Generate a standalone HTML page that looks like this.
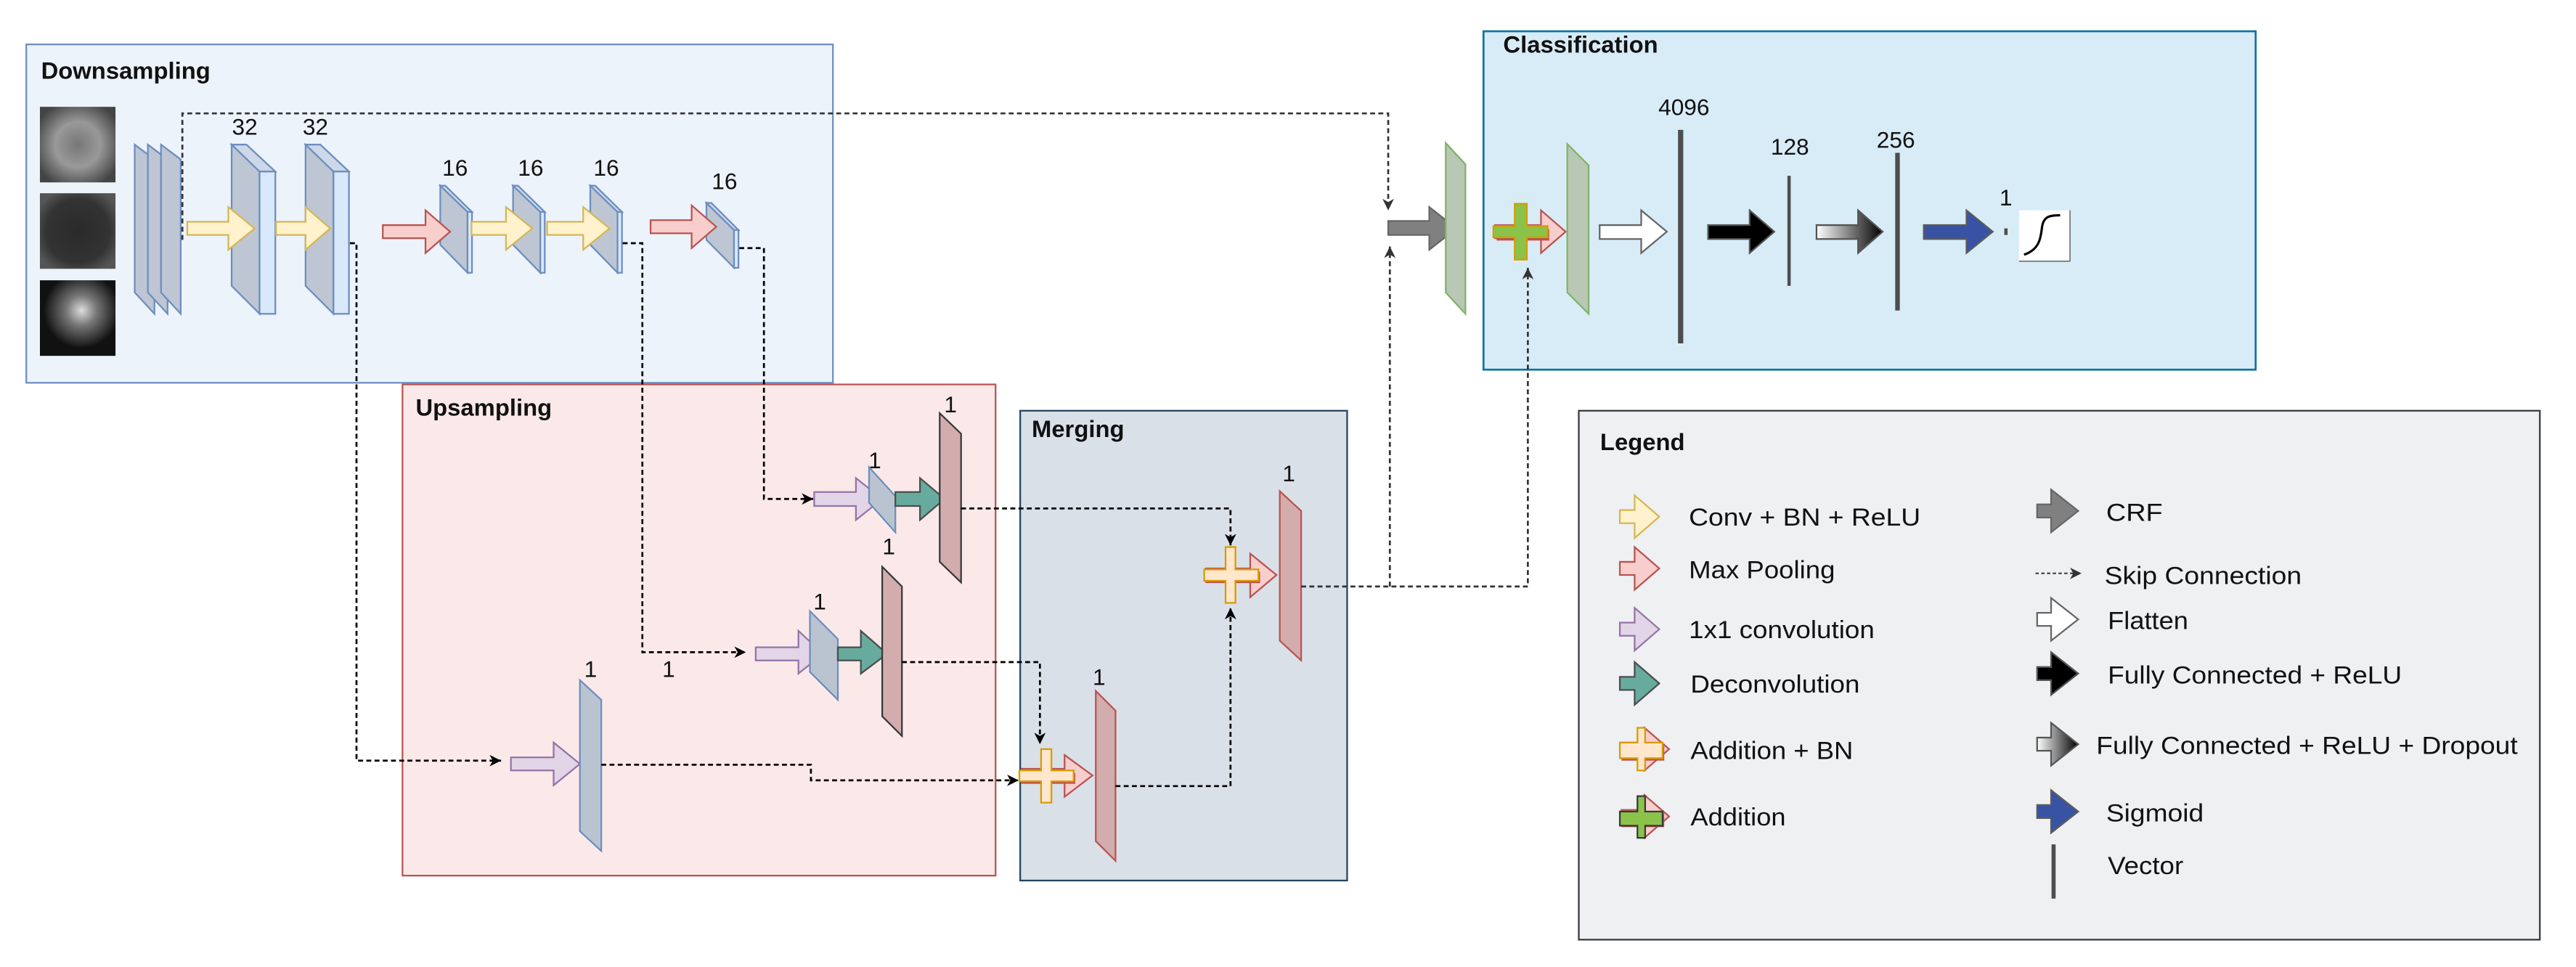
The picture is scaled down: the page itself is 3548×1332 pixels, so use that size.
<!DOCTYPE html>
<html><head><meta charset="utf-8"><style>html,body{margin:0;padding:0;background:#fff}svg{display:block}</style></head>
<body>
<svg xmlns="http://www.w3.org/2000/svg" width="3548" height="1332" viewBox="0 0 1568 588.6" font-family="Liberation Sans, Arial, sans-serif">
<defs>
<marker id="ah" markerUnits="userSpaceOnUse" markerWidth="8" markerHeight="8" viewBox="0 0 8 8" refX="7" refY="4" orient="auto"><path d="M0,0.5 L7,4 L0,7.5 L2,4 Z" fill="#000"/></marker>
<marker id="ahg" markerUnits="userSpaceOnUse" markerWidth="8" markerHeight="8" viewBox="0 0 8 8" refX="7" refY="4" orient="auto"><path d="M0,0.5 L7,4 L0,7.5 L2,4 Z" fill="#333"/></marker>
<linearGradient id="gr" x1="0" x2="1" y1="0" y2="0"><stop offset="0" stop-color="#fff"/><stop offset="1" stop-color="#000"/></linearGradient>
<radialGradient id="m1" cx="0.5" cy="0.5" r="0.6"><stop offset="0" stop-color="#777"/><stop offset="0.5" stop-color="#999"/><stop offset="1" stop-color="#444"/></radialGradient>
<radialGradient id="m2" cx="0.5" cy="0.5" r="0.6"><stop offset="0" stop-color="#2a2a2a"/><stop offset="0.7" stop-color="#333"/><stop offset="1" stop-color="#555"/></radialGradient>
<radialGradient id="m3" cx="0.55" cy="0.4" r="0.5"><stop offset="0" stop-color="#ddd"/><stop offset="0.4" stop-color="#777"/><stop offset="1" stop-color="#111"/></radialGradient>
</defs>

<!-- Boxes -->
<rect x="16" y="27" width="491" height="206" fill="#ecf3fb" stroke="#6c8ebf" stroke-width="1"/>
<rect x="903" y="19" width="470" height="206" fill="#d8ecf7" stroke="#10739e" stroke-width="1.2"/>
<rect x="245" y="234" width="361" height="299" fill="#fbe9e9" stroke="#b85450" stroke-width="1"/>
<rect x="621" y="250" width="199" height="286" fill="#dae0e8" stroke="#23445d" stroke-width="1"/>
<rect x="961" y="250" width="585" height="322" fill="#eff0f2" stroke="#36393d" stroke-width="1"/>

<text x="25" y="48" font-size="14.5" font-weight="bold" fill="#111">Downsampling</text>
<text x="915" y="32" font-size="14.5" font-weight="bold" fill="#111">Classification</text>
<text x="253" y="253" font-size="14.5" font-weight="bold" fill="#111">Upsampling</text>
<text x="628" y="266" font-size="14.5" font-weight="bold" fill="#111">Merging</text>
<text x="974" y="274" font-size="14.5" font-weight="bold" fill="#111">Legend</text>

<!-- MRI thumbs -->
<rect x="24.3" y="65" width="46" height="46" fill="url(#m1)"/>
<rect x="24.3" y="117.6" width="46" height="46" fill="url(#m2)"/>
<rect x="24.3" y="170.6" width="46" height="46" fill="url(#m3)"/>

<!-- input stack -->
<g fill="#bdc6d2" stroke="#6c8ebf" stroke-width="1">
<path d="M82,88 L94,97 L94,191 L82,178 Z"/>
<path d="M90,88 L102,97 L102,191 L90,178 Z"/>
<path d="M98,88 L110,97 L110,191 L98,178 Z"/>
</g>

<!-- 3D blocks -->
<g stroke="#6c8ebf" stroke-width="1">
<path d="M141,88 L158,104.4 L158,191 L141,174 Z" fill="#bdc6d2"/>
<path d="M141,88 L150,88 L167.6,104.4 L158,104.4 Z" fill="#ccd8e8"/>
<rect x="158" y="104.4" width="9.6" height="86.6" fill="#dae8fc"/>
<path d="M186,88 L203,104.4 L203,191 L186,174 Z" fill="#bdc6d2"/>
<path d="M186,88 L195,88 L212.4,104.4 L203,104.4 Z" fill="#ccd8e8"/>
<rect x="203" y="104.4" width="9.4" height="86.6" fill="#dae8fc"/>

<path d="M268,113 L284.6,129 L284.6,166 L268,149 Z" fill="#bdc6d2"/>
<path d="M268,113 L271,113 L287.3,129 L284.6,129 Z" fill="#ccd8e8"/>
<rect x="284.6" y="129" width="2.7" height="37" fill="#dae8fc"/>
<path d="M312.3,113 L328.9,129 L328.9,166 L312.3,149 Z" fill="#bdc6d2"/>
<path d="M312.3,113 L315.3,113 L331.6,129 L328.9,129 Z" fill="#ccd8e8"/>
<rect x="328.9" y="129" width="2.7" height="37" fill="#dae8fc"/>
<path d="M359.3,113 L375.9,129 L375.9,166 L359.3,149 Z" fill="#bdc6d2"/>
<path d="M359.3,113 L362.3,113 L378.6,129 L375.9,129 Z" fill="#ccd8e8"/>
<rect x="375.9" y="129" width="2.7" height="37" fill="#dae8fc"/>

<path d="M430,123.5 L446.8,140 L446.8,163 L430,146 Z" fill="#bdc6d2"/>
<path d="M430,123.5 L433,123.5 L449.5,140 L446.8,140 Z" fill="#ccd8e8"/>
<rect x="446.8" y="140" width="2.7" height="23" fill="#dae8fc"/>
</g>

<g font-size="14" fill="#111" text-anchor="middle">
<text x="149" y="82">32</text><text x="192" y="82">32</text>
<text x="277" y="107">16</text><text x="323" y="107">16</text><text x="369" y="107">16</text>
<text x="441" y="115">16</text>
<text x="1025" y="70">4096</text><text x="1089.5" y="94">128</text><text x="1154" y="90">256</text>
<text x="1221" y="125">1</text>
<text x="578.6" y="251">1</text><text x="532.5" y="285">1</text>
<text x="541" y="337.5">1</text><text x="499" y="371">1</text>
<text x="407" y="412">1</text><text x="359.5" y="412">1</text>
<text x="669" y="417">1</text><text x="784.5" y="293">1</text>
</g>

<!-- downsampling arrows -->
<g stroke-width="1">
<path d="M114,135 H139 V126 L155,139 L139,152 V143 H114 Z" fill="#fff2cc" stroke="#d6b656"/>
<path d="M168,135 H186 V126 L201,139 L186,152 V143 H168 Z" fill="#fff2cc" stroke="#d6b656"/>
<path d="M233,137 H259 V128 L274,141 L259,154 V145 H233 Z" fill="#f8cecc" stroke="#b85450"/>
<path d="M287,135 H308 V126 L324,139 L308,152 V143 H287 Z" fill="#fff2cc" stroke="#d6b656"/>
<path d="M333,135 H355 V126 L371,139 L355,152 V143 H333 Z" fill="#fff2cc" stroke="#d6b656"/>
<path d="M396,134 H421 V125 L436,138 L421,151 V142 H396 Z" fill="#f8cecc" stroke="#b85450"/>
</g>

<!-- upsampling -->
<g stroke-width="1">
<path d="M495.6,299.5 H521 V291 L537,303.7 L521,316.5 V308 H495.6 Z" fill="#e1d5e7" stroke="#9673a6"/>
<path d="M529,284.4 L545,302 L545,324 L529,306 Z" fill="#bac4d0" stroke="#6c8ebf"/>
<path d="M545,299.5 H560 V291 L575,303.7 L560,316.5 V308 H545 Z" fill="#67ab9f" stroke="#4d4d4d"/>
<path d="M572,251.5 L585,264 L585,354.5 L572,342 Z" fill="#d3adad" stroke="#36393d"/>

<path d="M460,394 H486 V384 L501,398 L486,410 V402 H460 Z" fill="#e1d5e7" stroke="#9673a6"/>
<path d="M493,372 L510,389 L510,426 L493,409 Z" fill="#bac4d0" stroke="#6c8ebf"/>
<path d="M510,394 H524 V384 L540,398 L524,410 V402 H510 Z" fill="#67ab9f" stroke="#4d4d4d"/>
<path d="M537,345 L549,357 L549,448 L537,436 Z" fill="#d3adad" stroke="#36393d"/>

<path d="M311,461 H337 V452 L353,465 L337,478 V469 H311 Z" fill="#e1d5e7" stroke="#9673a6"/>
<path d="M353,414 L366,426 L366,518 L353,506 Z" fill="#bac4d0" stroke="#6c8ebf"/>
</g>

<!-- merging -->
<g stroke-width="1">
<path d="M622,468 H648 V459.6 L665,472 L648,485 V476 H622 Z" fill="#f8cecc" stroke="#b85450"/>
<rect x="621.5" y="470.5" width="33" height="6.6" fill="#c0504d"/>
<path d="M633.7,456 H640 V469 H653.5 V475.6 H640 V488.6 H633.7 V475.6 H620.5 V469 H633.7 Z" fill="#ffe6cc" stroke="#d79b00"/>
<path d="M667,420.6 L679,432.6 L679,524 L667,512 Z" fill="#d3adad" stroke="#b85450"/>

<path d="M734,346 H761 V337 L777,350 L761,363.5 V354 H734 Z" fill="#f8cecc" stroke="#b85450"/>
<rect x="734" y="348" width="33" height="6.9" fill="#c0504d"/>
<path d="M746,333 H752 V346.6 H766 V353.5 H752 V367 H746 V353.5 H733 V346.6 H746 Z" fill="#ffe6cc" stroke="#d79b00"/>
<path d="M779,299 L792,311 L792,402 L779,390 Z" fill="#d3adad" stroke="#b85450"/>
</g>

<!-- classification -->
<g stroke-width="1">
<path d="M845,134.5 H870 V126 L886.5,139 L870,152 V143 H845 Z" fill="#808080" stroke="#666"/>
<path d="M880,87 L892,100 L892,191 L880,178 Z" fill="#b9c7b5" stroke="#82b366"/>
<path d="M910,137 H938 V128 L953,141 L938,154 V145 H910 Z" fill="#f8cecc" stroke="#b85450"/>
<rect x="911" y="139.5" width="32" height="6.9" fill="#c0504d"/>
<path d="M922,124 H929.4 V137.6 H942 V144.5 H929.4 V158 H922 V144.5 H909 V137.6 H922 Z" fill="#8bc34a" stroke="#d79b00"/>
<path d="M954,87.6 L967,100.6 L967,191 L954,178 Z" fill="#b9c7b5" stroke="#82b366"/>
<path d="M973.7,137 H999 V128 L1014.6,141 L999,154 V145.5 H973.7 Z" fill="#fff" stroke="#666"/>
<path d="M1039.7,137 H1065 V128 L1080,141 L1065,154 V145.5 H1039.7 Z" fill="#000" stroke="#555"/>
<path d="M1105.7,137 H1131 V128 L1146,141 L1131,154 V145.5 H1105.7 Z" fill="url(#gr)" stroke="#555"/>
<path d="M1171,137 H1197 V128 L1213,141 L1197,154 V145.5 H1171 Z" fill="#3953a4" stroke="#5b5b5b"/>
</g>
<g stroke="#4d4d4d" fill="none">
<line x1="1023" y1="79" x2="1023" y2="209" stroke-width="3.2"/>
<line x1="1089" y1="107" x2="1089" y2="174" stroke-width="2"/>
<line x1="1155" y1="93" x2="1155" y2="189" stroke-width="2.8"/>
<line x1="1221" y1="139" x2="1221" y2="143" stroke-width="2"/>
</g>
<rect x="1229" y="128" width="31" height="31" fill="#fff"/>
<path d="M1229,159 H1260 M1260,128 V159" stroke="#555" stroke-width="0.6" fill="none"/>
<path d="M1232,155 C1241,152 1242,146 1243,138 C1244,132 1247,131 1254,131" stroke="#000" stroke-width="1.4" fill="none"/>

<!-- connectors -->
<g fill="none" stroke="#000" stroke-width="1.2" stroke-dasharray="3 2">
<path d="M111,146 V69 H845 V128" stroke="#333" marker-end="url(#ahg)"/>
<path d="M792,357 H930 V163" stroke="#333" marker-end="url(#ahg)"/>
<path d="M846,357 V150" stroke="#333" marker-end="url(#ahg)"/>
<path d="M213,148 H217 V463 H305" marker-end="url(#ah)"/>
<path d="M379,148 H391 V397 H454" marker-end="url(#ah)"/>
<path d="M450,151 H465 V303.7 H495" marker-end="url(#ah)"/>
<path d="M585,309.5 H749 V332" marker-end="url(#ah)"/>
<path d="M549,403 H633 V453" marker-end="url(#ah)"/>
<path d="M366,465.5 H493.6 V475 H620" marker-end="url(#ah)"/>
<path d="M679,478.5 H749 V370" marker-end="url(#ah)"/>
</g>

<!-- legend icons -->
<g stroke-width="1">
<path d="M986,310.5 H995 V301.5 L1010,314.5 L995,327.5 V318.5 H986 Z" fill="#fff2cc" stroke="#d6b656"/>
<path d="M986,342 H995 V333 L1010,346 L995,359 V350 H986 Z" fill="#f8cecc" stroke="#b85450"/>
<path d="M986,379 H995 V370 L1010,383 L995,396 V387 H986 Z" fill="#e1d5e7" stroke="#9673a6"/>
<path d="M986,412 H995 V403 L1010,416 L995,429 V420 H986 Z" fill="#67ab9f" stroke="#4d4d4d"/>

<path d="M987,452 H1001 V443 L1016,456 L1001,469 V460 H987 Z" fill="#f8cecc" stroke="#b85450"/>
<rect x="987" y="454" width="26" height="9" fill="#c0504d"/>
<path d="M996.7,443 H1001.4 V452 H1012 V461.5 H1001.4 V469 H996.7 V461.5 H986 V452 H996.7 Z" fill="#ffe6cc" stroke="#d79b00"/>
<path d="M987,493 H1001 V484 L1016,497 L1001,510 V501 H987 Z" fill="#f8cecc" stroke="#b85450"/>
<rect x="987" y="495" width="26" height="8.5" fill="#c0504d"/>
<path d="M996.7,484.6 H1001.4 V494 H1012 V502.6 H1001.4 V510 H996.7 V502.6 H986 V494 H996.7 Z" fill="#8bc34a" stroke="#36393d"/>

<path d="M1240,307 H1248.5 V298 L1265,311 L1248.5,324 V315 H1240 Z" fill="#808080" stroke="#666"/>
<path d="M1240,373 H1248.5 V364 L1265,377 L1248.5,390 V381 H1240 Z" fill="#fff" stroke="#666"/>
<path d="M1240,406 H1248.5 V397 L1265,410 L1248.5,423 V414 H1240 Z" fill="#000" stroke="#555"/>
<path d="M1240,449 H1248.5 V440 L1265,453 L1248.5,466 V457 H1240 Z" fill="url(#gr)" stroke="#555"/>
<path d="M1240,490 H1248.5 V481 L1265,494 L1248.5,507 V498 H1240 Z" fill="#3953a4" stroke="#5b5b5b"/>
</g>
<path d="M1239,349 H1267" stroke="#444" stroke-width="1" stroke-dasharray="2 1.5" fill="none" marker-end="url(#ahg)"/>
<line x1="1250" y1="514" x2="1250" y2="547" stroke="#4d4d4d" stroke-width="2.5"/>

<g font-size="15" fill="#111" lengthAdjust="spacingAndGlyphs">
<text x="1028" y="320" textLength="141" lengthAdjust="spacingAndGlyphs">Conv + BN + ReLU</text>
<text x="1028" y="352" textLength="89" lengthAdjust="spacingAndGlyphs">Max Pooling</text>
<text x="1028" y="388.5" textLength="113" lengthAdjust="spacingAndGlyphs">1x1 convolution</text>
<text x="1029" y="421.5" textLength="103" lengthAdjust="spacingAndGlyphs">Deconvolution</text>
<text x="1029" y="462" textLength="99" lengthAdjust="spacingAndGlyphs">Addition + BN</text>
<text x="1029" y="502.5" textLength="58" lengthAdjust="spacingAndGlyphs">Addition</text>
<text x="1282" y="317" textLength="34.4" lengthAdjust="spacingAndGlyphs">CRF</text>
<text x="1281" y="355.5" textLength="120" lengthAdjust="spacingAndGlyphs">Skip Connection</text>
<text x="1283" y="383" textLength="49" lengthAdjust="spacingAndGlyphs">Flatten</text>
<text x="1283" y="416" textLength="179" lengthAdjust="spacingAndGlyphs">Fully Connected + ReLU</text>
<text x="1276" y="459" textLength="256.5" lengthAdjust="spacingAndGlyphs">Fully Connected + ReLU + Dropout</text>
<text x="1282" y="500" textLength="59.4" lengthAdjust="spacingAndGlyphs">Sigmoid</text>
<text x="1283" y="532" textLength="46" lengthAdjust="spacingAndGlyphs">Vector</text>
</g>
</svg>
</body></html>
